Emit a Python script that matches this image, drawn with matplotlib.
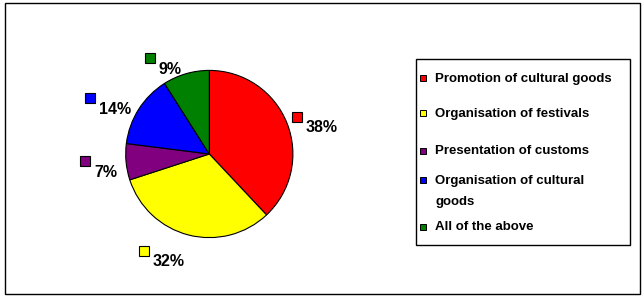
import numpy as np
import matplotlib
matplotlib.use("Agg")
import matplotlib.pyplot as plt
from matplotlib.patches import Rectangle

plt.rcParams['font.family'] = ['Liberation Sans', 'DejaVu Sans']

# data
categories = ['Promotion of cultural goods', 'Organisation of festivals',
              'Presentation of customs', 'Organisation of cultural\ngoods',
              'All of the above']
shares = [38, 32, 7, 14, 9]
colors = ['#FF0000', '#FFFF00', '#800080', '#0000FF', '#008000']

W, H = 644, 299
fig = plt.figure(figsize=(W / 100, H / 100), dpi=100)

def fx(px):
    return px / W

def fy(py):
    # py measured from top
    return 1 - py / H

# outer frame
fig.add_artist(Rectangle((fx(5), fy(294)), fx(635), 291 / H, transform=fig.transFigure,
                         fill=False, edgecolor='black', linewidth=1.0))

# pie axes: centre (209, 154) px, radius 84 px
cx, cy, r = 209.3, 154, 83.6
ax = fig.add_axes([fx(cx - r), fy(cy + r), 2 * r / W, 2 * r / H])
wedges, _ = ax.pie(shares, colors=colors, startangle=90, counterclock=False,
                   wedgeprops=dict(edgecolor='black', linewidth=0.8))
ax.set_xlim(-1, 1)
ax.set_ylim(-1, 1)
ax.set_aspect('equal')
ax.axis('off')

# data labels (outside end, Excel style) with colour key squares
label_nudge = [-8.6, -6.1, 4.5, 6.9, 8.6]
label_r = [1.384, 1.379, 1.255, 1.25, 1.12]
texts = []
for w, s, dn, lr in zip(wedges, shares, label_nudge, label_r):
    mid = np.deg2rad((w.theta1 + w.theta2) / 2 + dn)
    t = ax.text(lr * np.cos(mid), lr * np.sin(mid), f'{s}%', ha='center', va='center',
                fontsize=11.5, fontweight='bold', clip_on=False)
    texts.append(t)

fig.canvas.draw()
renderer = fig.canvas.get_renderer()
inv = fig.transFigure.inverted()
for t, c in zip(texts, colors):
    bb = t.get_window_extent(renderer)
    x, y = inv.transform((bb.x0 - 9, (bb.y0 + bb.y1) / 2 + 11))
    fig.add_artist(plt.Line2D([x], [y], marker='s', markersize=6.6, color=c,
                              markeredgecolor='black', markeredgewidth=0.8,
                              transform=fig.transFigure))

# legend box
fig.add_artist(Rectangle((fx(416), fy(245)), fx(214), 186 / H, transform=fig.transFigure,
                         fill=False, edgecolor='black', linewidth=1.0))
leg_y = [79, 114, 151.5, 181, 227.5]
for lab, c, y in zip(categories, colors, leg_y):
    fig.add_artist(plt.Line2D([fx(423)], [fy(y - 1)], marker='s', markersize=5,
                              color=c, markeredgecolor='black', markeredgewidth=0.7,
                              transform=fig.transFigure))
    # two-line entries get 21.5 px between lines
    for i, line in enumerate(lab.split('\n')):
        fig.text(fx(435), fy(y + 21.5 * i), line, ha='left', va='center',
                 fontsize=9.5, fontweight='bold')

fig.savefig('out.png', dpi=100)
